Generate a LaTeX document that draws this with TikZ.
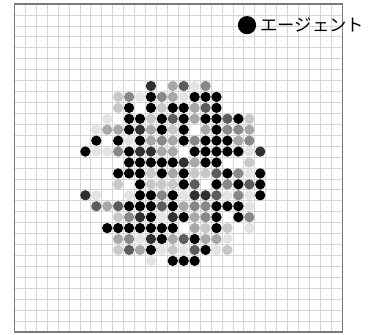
\documentclass[tikz,border=0pt]{standalone}
\usepackage{fontspec}
\newfontfamily\jpfont{Noto Sans CJK JP}
\usepackage{tikz}
\definecolor{grid_gray}{HTML}{D6D6D6}
\definecolor{frame_gray}{HTML}{7A7A7A}
\definecolor{shadeK}{HTML}{000000}
\definecolor{shadeD}{HTML}{303030}
\definecolor{shadeG}{HTML}{5C5C5C}
\definecolor{shadeA}{HTML}{888888}
\definecolor{shadeM}{HTML}{A8A8A8}
\definecolor{shadeL}{HTML}{C8C8C8}
\definecolor{shadeV}{HTML}{E4E4E4}

\begin{document}
\begin{tikzpicture}[x=0.3cm,y=0.3cm]

    \useasboundingbox (-1.31,-0.27) rectangle (32.36,30.37);

    \draw[grid_gray,line width=0.6pt,step=1] (0,0) grid (30,30);
    \draw[frame_gray,line width=1pt] (0,0) rectangle (30,30);

    % agents: row/{column/shade,...}
    \foreach \row/\cells in {
        7/{12/D,14/M,15/G,16/V,17/A},
        8/{9/L,10/A,11/V,12/K,13/A,14/M,15/V,16/K,17/K,18/K},
        9/{9/L,10/K,12/K,13/L,14/K,15/K,16/M,17/G,18/K},
        10/{8/V,10/K,11/K,12/L,13/K,14/G,15/K,16/M,17/K,18/K,19/G,20/K,21/L},
        11/{7/V,8/M,9/M,10/K,11/D,12/M,13/K,14/L,15/K,17/M,18/K,19/A,20/A,21/M},
        12/{7/K,9/K,10/V,11/K,12/M,13/A,14/M,15/K,16/A,17/K,18/K,19/K,20/M,21/A},
        13/{6/K,7/V,8/V,9/A,10/K,11/D,12/D,13/M,14/M,16/K,17/K,18/K,19/K,20/K,21/V,22/D},
        14/{10/K,11/K,12/K,13/K,14/K,15/D,16/M,17/K,18/K,21/L},
        15/{9/K,10/K,11/K,12/L,13/K,14/M,15/K,16/L,17/L,18/G,19/K,20/A,21/V,22/K},
        16/{9/L,11/K,12/L,13/L,14/L,15/K,16/G,18/K,19/A,20/K,21/G,22/K},
        17/{6/D,7/V,10/V,11/K,12/K,13/A,14/K,15/V,16/D,17/D,18/G,19/V,20/A,21/V,22/K},
        18/{7/G,8/M,9/G,10/K,11/K,12/K,13/G,14/K,15/M,16/A,17/A,18/K,19/K,20/K,21/V},
        19/{9/L,10/A,11/D,12/K,13/V,14/D,15/K,16/M,17/A,18/K,20/K,21/A},
        20/{8/K,9/K,10/K,11/K,12/K,13/K,14/K,16/M,17/L,18/K,19/L,21/V},
        21/{9/M,10/A,11/V,12/D,13/K,14/M,15/G,16/K,17/M,18/M,19/V},
        22/{9/L,10/G,11/M,12/K,13/V,14/L,15/V,16/G,17/K,18/V,19/L},
        23/{12/V,14/K,15/K,16/K}}
    {
        \foreach \col/\shade in \cells
            \fill[shade\shade] (\col+0.5,29.5-\row) circle (0.47);
    }

    \node[circle,fill=black,inner sep=0pt,minimum size=0.5cm] (legenddot)
        at (21.29,28.07) {};
    \node[right,inner sep=0pt] (legendtext) at (22.5,28.07)
        {\jpfont\fontsize{13.5pt}{13.5pt}\selectfont エージェント};

\end{tikzpicture}
\end{document}
